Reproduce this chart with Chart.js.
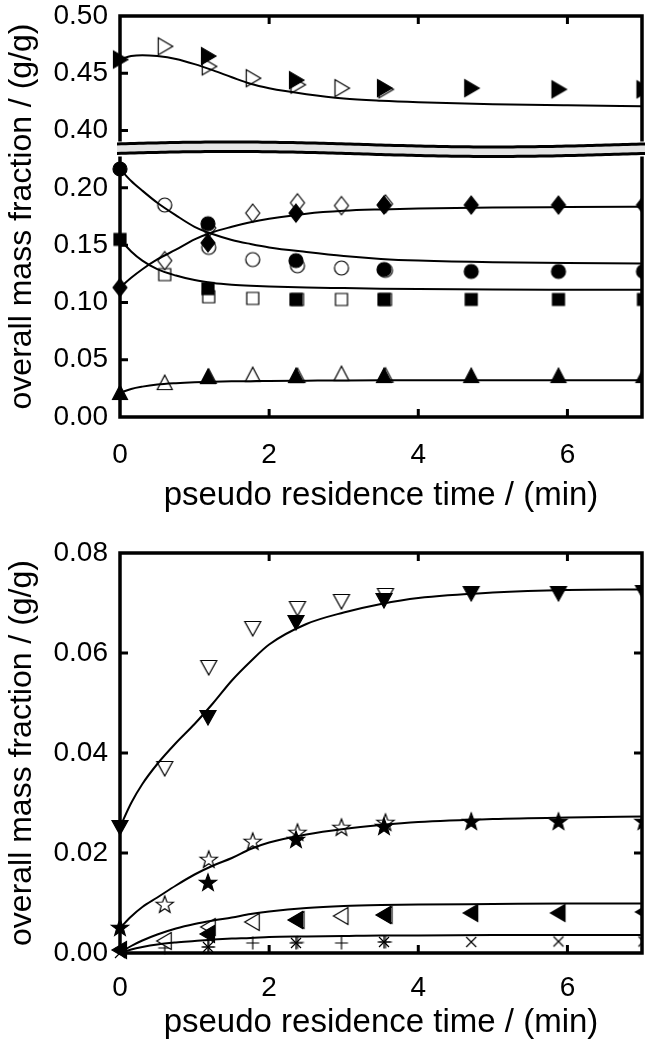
<!DOCTYPE html>
<html><head><meta charset="utf-8">
<script src="https://cdn.jsdelivr.net/npm/chart.js@4.4.0/dist/chart.umd.min.js"></script>
<style>
html,body{margin:0;padding:0;background:#fff;}
.p{position:absolute;left:0;width:651px;height:525px;}
</style>
</head><body>
<div class="p" style="top:0"><canvas id="c1" width="651" height="525"></canvas></div>
<div class="p" style="top:525px"><canvas id="c2" width="651" height="525"></canvas></div>
<script>
// ---------- data ----------
const T_FILLED = [0, 1.18, 2.36, 3.54, 4.71, 5.88, 7.02];
const T_OPEN = [0.6, 1.19, 1.78, 2.38, 2.97, 3.56];
const T_MODEL = [0, 0.15, 0.3, 0.5, 0.75, 1.0, 1.25, 1.5, 1.75, 2.0, 2.5, 3.0, 3.5, 4.0, 5.0, 6.0, 7.05];

// top panel (upper part above the axis break)
const BREAK_SHIFT = 0.15;
const triRightFilled = [0.462, 0.465, 0.444, 0.437, 0.437, 0.436, 0.436];
const triRightOpen = [0.4735, 0.456, 0.4457, 0.440, 0.437, 0.436];
const triRightModel = [0.462, 0.4650, 0.4658, 0.4650, 0.4625, 0.4580, 0.4525, 0.4465, 0.4408, 0.4370, 0.4318, 0.4280, 0.4260, 0.4247, 0.4230, 0.4220, 0.4213];
// top panel (lower part)
const circleFilled = [0.2165, 0.1687, 0.1365, 0.1287, 0.127, 0.127, 0.127];
const circleOpen = [0.185, 0.148, 0.1374, 0.132, 0.130, 0.128];
const circleModel = [0.2165, 0.206, 0.1975, 0.187, 0.176, 0.166, 0.1595, 0.1545, 0.151, 0.148, 0.144, 0.1405, 0.138, 0.1365, 0.135, 0.1345, 0.134];
const diamondFilled = [0.113, 0.152, 0.178, 0.185, 0.185, 0.185, 0.185];
const diamondOpen = [0.1365, 0.165, 0.178, 0.187, 0.1845, 0.186];
const diamondModel = [0.113, 0.1215, 0.129, 0.1375, 0.146, 0.155, 0.1615, 0.166, 0.170, 0.173, 0.1775, 0.1800, 0.1812, 0.182, 0.1828, 0.1832, 0.1835];
const squareFilled = [0.155, 0.112, 0.1026, 0.1026, 0.1026, 0.1026, 0.1026];
const squareOpen = [0.1243, 0.105, 0.1035, 0.1026, 0.1026, 0.1026];
const squareModel = [0.155, 0.1445, 0.1365, 0.129, 0.1235, 0.1195, 0.117, 0.1155, 0.1145, 0.1138, 0.113, 0.1125, 0.112, 0.1117, 0.1113, 0.1111, 0.111];
const triUpFilled = [0.0209, 0.0348, 0.0357, 0.0357, 0.0357, 0.0357, 0.0357];
const triUpOpen = [0.0296, 0.035, 0.0365, 0.0357, 0.0374, 0.036];
const triUpModel = [0.021, 0.0245, 0.0265, 0.0283, 0.0295, 0.0303, 0.0308, 0.0311, 0.0313, 0.0315, 0.0317, 0.0319, 0.032, 0.032, 0.032, 0.032, 0.032];

// bottom panel
const triDownFilled = [0.0252, 0.0472, 0.0662, 0.0706, 0.072, 0.072, 0.0722];
const triDownOpen = [0.037, 0.0572, 0.065, 0.069, 0.0704, 0.0716];
const triDownModel = [0.0252, 0.0300, 0.0338, 0.0378, 0.0420, 0.0458, 0.0500, 0.0545, 0.0583, 0.0617, 0.0658, 0.0681, 0.0698, 0.0710, 0.0721, 0.0726, 0.0727];
const starFilled = [0.005, 0.014, 0.0226, 0.0252, 0.0262, 0.0262, 0.0262];
const starOpen = [0.0096, 0.0186, 0.0222, 0.024, 0.025, 0.026];
const starModel = [0.005, 0.0073, 0.0092, 0.0111, 0.0135, 0.0157, 0.0175, 0.019, 0.0208, 0.0221, 0.0237, 0.0248, 0.0256, 0.0262, 0.0268, 0.0271, 0.0273];
const triLeftFilled = [0.0006, 0.0038, 0.0066, 0.0076, 0.008, 0.008, 0.0082];
const triLeftOpen = [0.0024, 0.0052, 0.0062, 0.0066, 0.0074, 0.0076];
const triLeftModel = [0.0, 0.0014, 0.0025, 0.0037, 0.0049, 0.0058, 0.0065, 0.0071, 0.0078, 0.0083, 0.0090, 0.0094, 0.0096, 0.0097, 0.0098, 0.0099, 0.0099];
const crossFilled = [0.0, 0.0012, 0.002, 0.0022, 0.0022, 0.0023, 0.0023];
const plusOpen = [0.001, 0.0012, 0.002, 0.0021, 0.002, 0.0022];
const crossModel = [0.0, 0.0007, 0.0012, 0.0017, 0.0021, 0.0024, 0.0027, 0.0029, 0.0030, 0.0032, 0.0033, 0.0034, 0.0035, 0.0035, 0.0036, 0.0036, 0.0036];

const X_TITLE = 'pseudo residence time / (min)';
const Y_TITLE = 'overall mass fraction / (g/g)';

// ---------- helpers ----------
const FONT = "'Liberation Sans', Arial, Helvetica, sans-serif";

function marker(shape, filled) {
  const S = 24;
  const c = document.createElement('canvas');
  c.width = S; c.height = S;
  const g = c.getContext('2d');
  g.translate(S / 2, S / 2);
  g.lineWidth = 1.2;
  g.strokeStyle = '#000';
  g.fillStyle = filled ? '#000' : '#fff';
  g.beginPath();
  switch (shape) {
    case 'triR': g.moveTo(-6.5, -8.5); g.lineTo(8, 0); g.lineTo(-6.5, 8.5); g.closePath(); break;
    case 'triL': g.moveTo(6.5, -8.5); g.lineTo(-8, 0); g.lineTo(6.5, 8.5); g.closePath(); break;
    case 'triU': g.moveTo(0, -8); g.lineTo(7.5, 6.5); g.lineTo(-7.5, 6.5); g.closePath(); break;
    case 'triD': g.moveTo(0, 8); g.lineTo(8, -6.5); g.lineTo(-8, -6.5); g.closePath(); break;
    case 'diamond': g.moveTo(0, -9); g.lineTo(7, 0); g.lineTo(0, 9); g.lineTo(-7, 0); g.closePath(); break;
    case 'circle': g.arc(0, 0, 7, 0, Math.PI * 2); break;
    case 'square': g.rect(-6, -6, 12, 12); break;
    case 'star': {
      for (let i = 0; i < 10; i++) {
        const r = i % 2 === 0 ? 9 : 3.7;
        const a = -Math.PI / 2 + i * Math.PI / 5;
        const px = r * Math.cos(a), py = r * Math.sin(a);
        if (i === 0) g.moveTo(px, py); else g.lineTo(px, py);
      }
      g.closePath();
      break;
    }
    case 'plus': g.moveTo(-6.5, 0); g.lineTo(6.5, 0); g.moveTo(0, -6.5); g.lineTo(0, 6.5);
      g.stroke(); return c;
    case 'cross': g.moveTo(-5, -5); g.lineTo(5, 5); g.moveTo(5, -5); g.lineTo(-5, 5);
      g.stroke(); return c;
  }
  g.fill(); g.stroke();
  return c;
}

function pts(xs, ys, shift) {
  return xs.map((x, i) => ({ x: x, y: ys[i] - (shift || 0) }));
}
const CLIP = { left: false, top: false, right: 0, bottom: false };
function scatterDs(xs, ys, shape, filled, shift) {
  return { type: 'scatter', data: pts(xs, ys, shift), pointStyle: marker(shape, filled),
    pointRadius: 8, pointHoverRadius: 8, showLine: false, clip: CLIP, order: filled ? 1 : 3 };
}
function modelDs(ys, shift) {
  return { type: 'line', data: pts(T_MODEL, ys, shift), borderColor: '#000', borderWidth: 2,
    pointRadius: 0, fill: false, cubicInterpolationMode: 'monotone', clip: CLIP, order: 2 };
}

const framePlugin = {
  id: 'frame',
  afterDatasetsDraw(chart, args, opts) {
    const { ctx, chartArea: a, scales } = chart;
    const xs = scales.x, ys = scales.y;
    ctx.save();
    // axis break band
    if (opts.breakAt !== undefined) {
      const yc = ys.getPixelForValue(opts.breakAt);
      const w = a.right - a.left;
      const f = (x) => yc + 2.5 * Math.sin(2 * Math.PI * (x - a.left - 0.465 * w) / (1.01 * w));
      const steps = 120;
      const top = [], bot = [];
      for (let i = 0; i <= steps; i++) {
        const x = a.left - 3 + (w + 6) * i / steps;
        top.push([x, f(x) - 1]);
        bot.push([x, f(x) + 8.5]);
      }
      ctx.fillStyle = '#fff';
      ctx.beginPath();
      top.forEach((p, i) => i ? ctx.lineTo(p[0], p[1] - 3) : ctx.moveTo(p[0], p[1] - 3));
      for (let i = bot.length - 1; i >= 0; i--) ctx.lineTo(bot[i][0], bot[i][1] + 3);
      ctx.closePath(); ctx.fill();
      ctx.fillStyle = '#e4e4e4';
      ctx.beginPath();
      top.forEach((p, i) => i ? ctx.lineTo(p[0], p[1]) : ctx.moveTo(p[0], p[1]));
      for (let i = bot.length - 1; i >= 0; i--) ctx.lineTo(bot[i][0], bot[i][1]);
      ctx.closePath(); ctx.fill();
      ctx.strokeStyle = '#000'; ctx.lineWidth = 3;
      [top, bot].forEach(line => {
        ctx.beginPath();
        line.forEach((p, i) => i ? ctx.lineTo(p[0], p[1]) : ctx.moveTo(p[0], p[1]));
        ctx.stroke();
      });
    }
    ctx.strokeStyle = '#000';
    ctx.lineCap = 'butt';
    // frame
    ctx.lineWidth = 3.5;
    ctx.beginPath();
    const yb1 = opts.breakAt !== undefined ? ys.getPixelForValue(opts.breakAt) - 4 : null;
    const yb2 = opts.breakAt !== undefined ? ys.getPixelForValue(opts.breakAt) + 11 : null;
    ctx.moveTo(a.left, a.top); ctx.lineTo(a.right, a.top);
    ctx.moveTo(a.left, a.bottom); ctx.lineTo(a.right, a.bottom);
    if (yb1 !== null) {
      ctx.moveTo(a.left, a.top - 1.75); ctx.lineTo(a.left, yb1);
      ctx.moveTo(a.left, yb2); ctx.lineTo(a.left, a.bottom + 1.75);
      ctx.moveTo(a.right, a.top - 1.75); ctx.lineTo(a.right, yb1);
      ctx.moveTo(a.right, yb2); ctx.lineTo(a.right, a.bottom + 1.75);
    } else {
      ctx.moveTo(a.left, a.top - 1.75); ctx.lineTo(a.left, a.bottom + 1.75);
      ctx.moveTo(a.right, a.top - 1.75); ctx.lineTo(a.right, a.bottom + 1.75);
    }
    ctx.stroke();
    // inward ticks
    ctx.lineWidth = 3;
    const TL = 8;
    ctx.beginPath();
    xs.ticks.forEach(t => {
      if (t.value <= xs.min || t.value >= xs.max) return;
      const px = xs.getPixelForValue(t.value);
      ctx.moveTo(px, a.bottom); ctx.lineTo(px, a.bottom - TL);
      ctx.moveTo(px, a.top); ctx.lineTo(px, a.top + TL);
    });
    ys.ticks.forEach(t => {
      if (t.value <= ys.min + 1e-9 || t.value >= ys.max - 1e-9) return;
      const py = ys.getPixelForValue(t.value);
      ctx.moveTo(a.left, py); ctx.lineTo(a.left + TL, py);
      if (opts.rightTicks) { ctx.moveTo(a.right, py); ctx.lineTo(a.right - TL, py); }
    });
    ctx.stroke();
    ctx.restore();
  }
};

function baseOptions(o) {
  return {
    responsive: false,
    animation: false,
    devicePixelRatio: 1,
    layout: { padding: { top: o.padTop, right: 4, left: 0, bottom: 0 } },
    plugins: { legend: { display: false }, tooltip: { enabled: false }, frame: o.frame },
    scales: {
      x: {
        type: 'linear', min: 0, max: 7,
        afterFit: (s) => { s.height = o.xHeight; s.paddingLeft = 0; s.paddingRight = 0; },
        ticks: { stepSize: 2, includeBounds: false, color: '#000', padding: o.xTickPad,
          font: { family: FONT, size: 28 }, maxRotation: 0 },
        grid: { display: false, drawTicks: false },
        border: { display: false },
        title: { display: true, text: X_TITLE, color: '#000', font: { family: FONT, size: 33 },
          padding: { top: 0, bottom: o.xTitlePad } }
      },
      y: {
        type: 'linear', min: 0, max: o.yMax,
        afterFit: (s) => { s.width = 120; s.paddingTop = 0; s.paddingBottom = 0; },
        ticks: { stepSize: o.yStep, color: '#000', padding: 12,
          font: { family: FONT, size: 28 }, callback: o.yLabel },
        grid: { display: false, drawTicks: false },
        border: { display: false },
        title: { display: true, text: Y_TITLE, color: '#000', font: { family: FONT, size: 32 },
          padding: { top: 3, bottom: 3 } }
      }
    }
  };
}

// ---------- top chart ----------
new Chart(document.getElementById('c1'), {
  type: 'scatter',
  data: {
    datasets: [
      scatterDs(T_FILLED, triRightFilled, 'triR', true, BREAK_SHIFT),
      scatterDs(T_OPEN, triRightOpen, 'triR', false, BREAK_SHIFT),
      modelDs(triRightModel, BREAK_SHIFT),
      scatterDs(T_FILLED, circleFilled, 'circle', true),
      scatterDs(T_OPEN, circleOpen, 'circle', false),
      modelDs(circleModel),
      scatterDs(T_FILLED, diamondFilled, 'diamond', true),
      scatterDs(T_OPEN, diamondOpen, 'diamond', false),
      modelDs(diamondModel),
      scatterDs(T_FILLED, squareFilled, 'square', true),
      scatterDs(T_OPEN, squareOpen, 'square', false),
      modelDs(squareModel),
      scatterDs(T_FILLED, triUpFilled, 'triU', true),
      scatterDs(T_OPEN, triUpOpen, 'triU', false),
      modelDs(triUpModel)
    ]
  },
  options: baseOptions({
    padTop: 16, xHeight: 108, xTickPad: 21, xTitlePad: 9, yMax: 0.35, yStep: 0.05,
    yLabel: (v) => { const r = Math.round(v * 100) / 100; return (r > 0.2 + 1e-9 ? r + BREAK_SHIFT : r).toFixed(2); },
    frame: { breakAt: 0.237, rightTicks: false }
  }),
  plugins: [framePlugin]
});

// ---------- bottom chart ----------
new Chart(document.getElementById('c2'), {
  type: 'scatter',
  data: {
    datasets: [
      scatterDs(T_FILLED, triDownFilled, 'triD', true),
      scatterDs(T_OPEN, triDownOpen, 'triD', false),
      modelDs(triDownModel),
      scatterDs(T_FILLED, starFilled, 'star', true),
      scatterDs(T_OPEN, starOpen, 'star', false),
      modelDs(starModel),
      scatterDs(T_FILLED, triLeftFilled, 'triL', true),
      scatterDs(T_OPEN, triLeftOpen, 'triL', false),
      modelDs(triLeftModel),
      scatterDs(T_FILLED, crossFilled, 'cross', true),
      scatterDs(T_FILLED.slice(1, 4), crossFilled.slice(1, 4), 'plus', true),
      scatterDs(T_OPEN, plusOpen, 'plus', false),
      modelDs(crossModel)
    ]
  },
  options: baseOptions({
    padTop: 28, xHeight: 97, xTickPad: 18, xTitlePad: 7, yMax: 0.08, yStep: 0.02,
    yLabel: (v) => (Math.round(v * 100) / 100).toFixed(2),
    frame: { rightTicks: true }
  }),
  plugins: [framePlugin]
});
</script>
</body></html>
